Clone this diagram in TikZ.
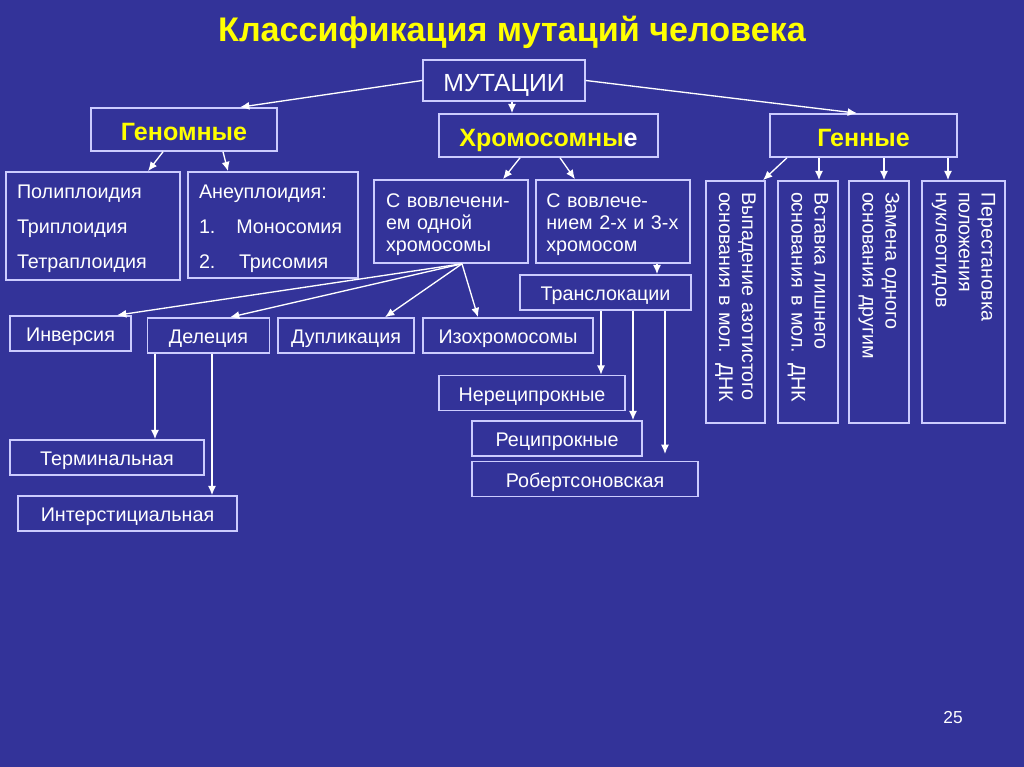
\documentclass[tikz,border=0pt]{standalone}
\usepackage{fontspec}
\setmainfont{Liberation Sans}
\usetikzlibrary{arrows.meta}
\definecolor{slide}{RGB}{51,51,153}
\definecolor{frame}{RGB}{204,204,255}
\definecolor{head}{RGB}{255,255,0}

\begin{document}
\begin{tikzpicture}[x=0.75pt,y=-0.75pt,
  box/.style={draw=frame,line width=1.2pt,text=white,inner sep=0pt,
    font=\fontsize{14.8}{17}\selectfont,minimum height=26.25pt,text height=12.1pt,text depth=0pt},
  hbox/.style={box,text=head,minimum height=32.25pt,text height=16.1pt,
    font=\bfseries\fontsize{18.8}{22}\selectfont},
  lbox/.style={box,align=left,text height=0pt},
  vbox/.style={box,rotate=-90,align=left,minimum width=181.5pt,text width=165pt,
    text height=,text depth=,font=\fontsize{14.8}{17.2}\selectfont},
  arr/.style={-{Latex[length=7pt,width=6pt]},draw=white,line width=1pt}]
  \fill[slide] (0,0) rectangle (1024,767);
  \node[anchor=base,text=head,font=\bfseries\fontsize{25.6}{30}\selectfont] (title) at (512,42) {Классификация мутаций человека};
  % top level
  \node[box,minimum width=121.5pt,minimum height=30.75pt,text height=16.7pt,font=\fontsize{18.6}{22}\selectfont] (mut) at (504,80.5) {МУТАЦИИ};
  \node[hbox,minimum width=139.5pt] (genom) at (184,129.5) {Геномные};
  \node[hbox,minimum width=164.25pt] (chrom) at (548.5,135.5) {Хромосомны{\color{white}е}};
  \node[hbox,minimum width=140.25pt] (gene) at (863.5,135.5) {Генные};
  % genome
  \node[lbox,minimum width=130.5pt,minimum height=81pt,text width=114pt,text depth=42pt,
    font=\fontsize{14.8}{26.25}\selectfont] (poly) at (93,226) {Полиплоидия\\Триплоидия\\Тетраплоидия};
  \node[lbox,minimum width=127.5pt,minimum height=79.5pt,text width=111pt,text depth=40.5pt,
    font=\fontsize{14.8}{26.25}\selectfont] (aneu) at (273,225) {Анеуплоидия:\\\makebox[28pt][l]{1.}Моносомия\\\makebox[30pt][l]{2.}Трисомия};
  % chromosome
  \node[lbox,minimum width=115.5pt,minimum height=62.25pt,text width=97.5pt,text depth=21.75pt,
    font=\fontsize{14.8}{16.7}\selectfont] (one) at (451,221.5) {С вовлечени-\\ем одной\\хромосомы};
  \node[lbox,minimum width=115.5pt,minimum height=62.25pt,text width=100pt,text depth=21.75pt,
    font=\fontsize{14.8}{16.7}\selectfont] (two) at (613,221.5) {С вовлече-\\нием 2-х и 3-х\\хромосом};
  \node[box,minimum width=128.25pt] (trans) at (605.5,292.5) {Транслокации};
  \node[box,minimum width=90.75pt] (inv) at (70.5,333.5) {Инверсия};
  \node[box,minimum width=91.5pt] (del) at (208.5,335.5) {Делеция};
  \node[box,minimum width=102pt] (dup) at (346,335.5) {Дупликация};
  \node[box,minimum width=127.5pt] (izo) at (508,335.5) {Изохромосомы};
  \node[box,minimum width=139.5pt] (nerec) at (532,393) {Нереципрокные};
  \node[box,minimum width=127.5pt] (rec) at (557,438.5) {Реципрокные};
  \node[box,minimum width=169.5pt] (rob) at (585,479) {Робертсоновская};
  \node[box,minimum width=145.5pt] (term) at (107,457.5) {Терминальная};
  \node[box,minimum width=164.25pt] (inter) at (127.5,513.5) {Интерстициальная};
  % gene
  \node[vbox,minimum height=44.25pt] (vyp) at (735.5,302) {Выпадение азотистого\\основания в мол. ДНК};
  \node[vbox,minimum height=45pt] (vst) at (808,302) {Вставка лишнего\\основания в мол. ДНК};
  \node[vbox,minimum height=45pt] (zam) at (879,302) {Замена одного\\основания другим};
  \node[vbox,minimum height=62.25pt] (per) at (963.5,302) {Перестановка\\положения\\нуклеотидов};
  \node[text=white,font=\fontsize{13}{16}\selectfont] (page) at (953,718) {25};
  % arrows
  \draw[arr] (mut.west) -- (240,0 |- genom.north);
  \draw[arr] (512,0 |- mut.south) -- (512,0 |- chrom.north);
  \draw[arr] (mut.east) -- (857,0 |- gene.north);
  \draw[arr] (163,0 |- genom.south) -- (148,0 |- poly.north);
  \draw[arr] (223,0 |- genom.south) -- (228,0 |- aneu.north);
  \draw[arr] (520,0 |- chrom.south) -- (503,0 |- one.north);
  \draw[arr] (560,0 |- chrom.south) -- (575,0 |- two.north);
  \draw[arr] (787,0 |- gene.south) -- (763,0 |- vyp.west);
  \draw[arr] (819,0 |- gene.south) -- (819,0 |- vst.west);
  \draw[arr] (884,0 |- gene.south) -- (884,0 |- zam.west);
  \draw[arr] (948,0 |- gene.south) -- (948,0 |- per.west);
  \foreach \t/\x in {inv/117,del/230,dup/385,izo/478}
    \draw[arr] (462,0 |- one.south) -- (\x,0 |- \t.north);
  \draw[arr] (657,0 |- two.south) -- (657,0 |- trans.north);
  \draw[arr] (601,0 |- trans.south) -- (601,0 |- nerec.north);
  \draw[arr] (633,0 |- trans.south) -- (633,0 |- rec.north);
  \draw[arr,shorten >=5pt] (665,0 |- trans.south) -- (665,0 |- rob.north);
  \draw[arr] (155,0 |- del.south) -- (155,0 |- term.north);
  \draw[arr] (212,0 |- del.south) -- (212,0 |- inter.north);
\end{tikzpicture}
\end{document}
